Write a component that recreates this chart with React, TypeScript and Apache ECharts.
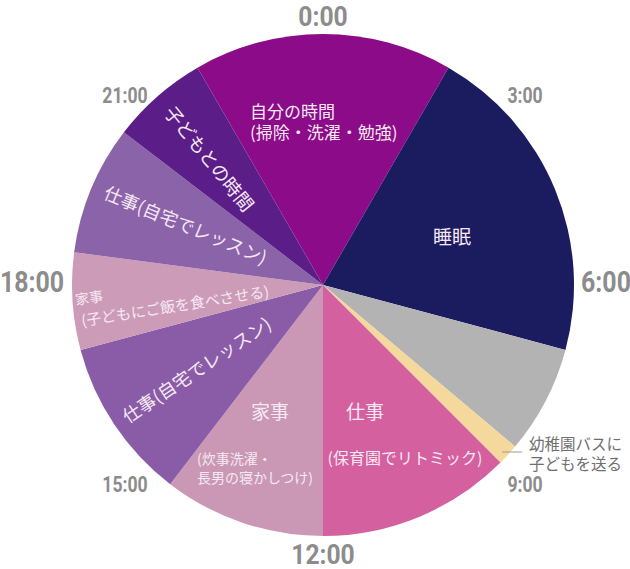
import * as echarts from 'echarts';
import React, { useEffect, useRef } from 'react';

// 24h day, clockwise from 22:00
const activities = ['自分の時間', '睡眠', '', '幼稚園バスに子どもを送る', '仕事(保育園)', '家事(炊事洗濯)', '仕事(自宅)', '家事(夕食)', '仕事(自宅)', '子どもとの時間'];
const hours = [4, 5, 1.67, 0.33, 3, 2.5, 2.5, 1.5, 2, 1.5];
const sliceColors = ['#8c0b88', '#1b1b5f', '#b3b3b3', '#f5d89c', '#d5609f', '#ca98b5', '#8a5ca7', '#cc9bb7', '#8b63a9', '#5b1e88'];
const clockLabels = ['0:00', '3:00', '6:00', '9:00', '12:00', '15:00', '18:00', '21:00'];

const CLOCK_FONT = 'Roboto, "DejaVu Sans Condensed", sans-serif';
const JP_FONT = '"Noto Sans CJK JP", "Noto Sans", sans-serif';
const LABEL_COLOR = '#f6e8f3';

const App: React.FC = () => {
  const chartRef = useRef<HTMLDivElement>(null);

  useEffect(() => {
    document.body.style.margin = '0';
    const myChart = echarts.init(chartRef.current!, null, { renderer: 'svg' });

    // clock positions (x, y, size, horizontal squeeze), same order as clockLabels
    const clockPos = [
      [323, 16, 28, 0.88], [525, 96, 22, 0.8], [606, 282, 29, 0.86], [525, 485, 22, 0.8],
      [323, 554, 28, 0.88], [125, 485, 22, 0.8], [32, 282, 29, 0.86], [125, 96, 22, 0.8],
    ];

    const txt = (text: string, x: number, y: number, size: number, opts: any = {}) => ({
      type: 'text',
      x,
      y,
      z: 20,
      scaleX: opts.scaleX || 1,
      rotation: ((opts.rotate || 0) * Math.PI) / 180,
      silent: true,
      style: {
        text,
        x: 0,
        y: 0,
        align: opts.align || 'center',
        verticalAlign: 'middle',
        fontSize: size,
        lineHeight: opts.lineHeight,
        fontFamily: opts.font || JP_FONT,
        fontWeight: opts.weight || 'normal',
        fill: opts.color || LABEL_COLOR,
      },
    });

    const graphic: any[] = [
      ...clockLabels.map((t, i) =>
        txt(t, clockPos[i][0], clockPos[i][1], clockPos[i][2], {
          font: CLOCK_FONT,
          weight: 'bold',
          color: '#8c8c8c',
          scaleX: clockPos[i][3],
        })
      ),
      txt('自分の時間\n(掃除・洗濯・勉強)', 250, 121, 17, { align: 'left', lineHeight: 21 }),
      txt('睡眠', 452, 235, 19),
      txt('仕事', 365, 410, 19),
      txt('(保育園でリトミック)', 405, 457, 16),
      txt('家事', 270, 410, 19),
      txt('(炊事洗濯・\n長男の寝かしつけ)', 197, 467, 14, { align: 'left', lineHeight: 19 }),
      txt('家事', 89, 297, 14, { rotate: 9 }),
      txt('(子どもにご飯を食べさせる)', 175, 305, 15, { rotate: 9 }),
      txt('仕事(自宅でレッスン)', 186, 224, 18, { rotate: -22.5 }),
      txt('仕事(自宅でレッスン)', 196, 369, 18, { rotate: 33.7 }),
      txt('子どもとの時間', 210, 158, 18.5, { rotate: -51 }),
      {
        type: 'line',
        z: 20,
        silent: true,
        shape: { x1: 502, y1: 452, x2: 522, y2: 452 },
        style: { stroke: '#9a9a9a', lineWidth: 1 },
      },
      txt('幼稚園バスに\n子どもを送る', 529, 453, 15.5, { align: 'left', color: '#707070', lineHeight: 20 }),
    ];

    const option = {
      animation: false,
      series: [
        {
          type: 'pie',
          center: [323, 285],
          radius: [0, 251],
          startAngle: 120,
          clockwise: true,
          avoidLabelOverlap: false,
          label: { show: false },
          labelLine: { show: false },
          itemStyle: { borderWidth: 0 },
          emphasis: { disabled: true },
          data: hours.map((h, i) => ({
            name: activities[i],
            value: h,
            itemStyle: { color: sliceColors[i] },
          })),
        },
      ],
      graphic,
    };

    myChart.setOption(option);

    return () => {
      myChart.dispose();
    };
  }, []);

  return <div ref={chartRef} style={{ width: '630px', height: '569px' }} />;
};

export default App;
